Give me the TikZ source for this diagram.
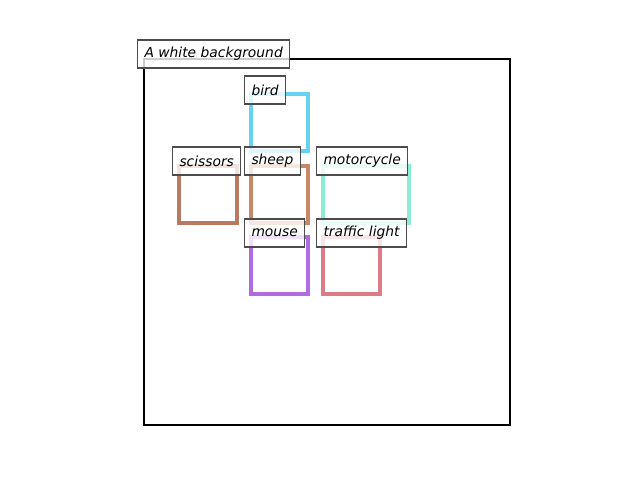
\documentclass[tikz,border=0pt]{standalone}
\usepackage{fontspec}
\setmainfont{DejaVu Sans}
\definecolor{birdc}{RGB}{100,210,240}
\definecolor{scissorsc}{RGB}{185,122,98}
\definecolor{sheepc}{RGB}{200,135,102}
\definecolor{motorc}{RGB}{140,236,212}
\definecolor{mousec}{RGB}{175,108,225}
\definecolor{lightc}{RGB}{220,124,134}
\tikzset{
  objbox/.style={line width=2.2bp},
  tag/.style={draw=black!70, line width=0.8bp, fill=white, fill opacity=0.8,
    text opacity=1, anchor=west, inner xsep=5bp, inner ysep=0pt,
    minimum height=20.2bp, font=\itshape\fontsize{10}{12}\selectfont}
}
\begin{document}
\begin{tikzpicture}[x=0.72bp, y=-0.72bp]
		\useasboundingbox (0,0) rectangle (640,480);
		\draw[line width=1.8bp] (144,59) rectangle (510,425);
		\foreach \c/\xa/\ya/\xb/\yb in {birdc/251/94/308/151, scissorsc/179/166/237/223,
		  sheepc/251/166/308/223, motorc/323/166/409/223, mousec/251/237/308/294,
		  lightc/323/237/380/294}
		\draw[objbox, \c] (\xa,\ya) rectangle (\xb,\yb);
		\node[tag] (bg) at (137,54) {A white background};
		\node[tag] (bird) at (244,90) {bird};
		\node[tag] (scissors) at (172,161) {scissors};
		\node[tag] (sheep) at (244,161) {sheep};
		\node[tag] (motorcycle) at (316,161) {motorcycle};
		\node[tag] (mouse) at (244,233) {mouse};
		\node[tag] (trafficlight) at (316,233) {traffic light};
	\end{tikzpicture}
\end{document}
